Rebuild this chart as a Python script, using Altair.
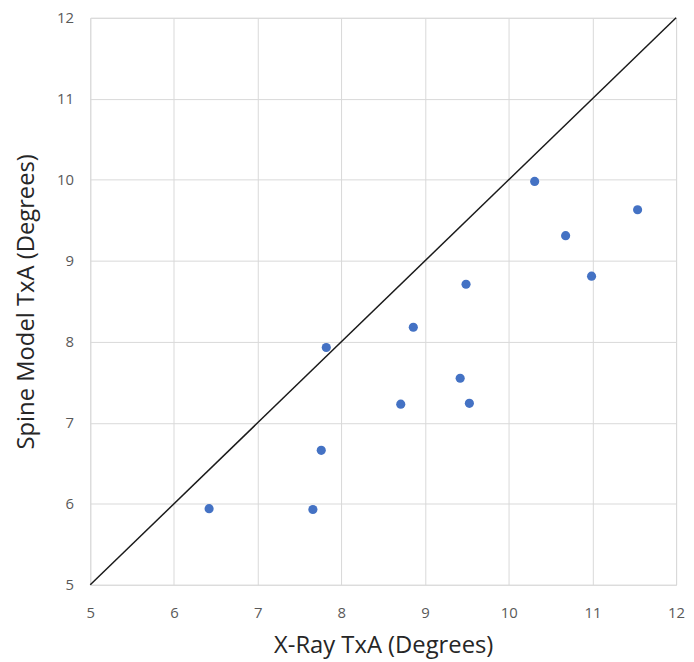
import altair as alt
import pandas as pd

xray = [6.42, 7.66, 7.76, 7.82, 8.71, 8.86, 9.42, 9.49, 9.53, 10.31, 10.68, 10.99, 11.54]
model = [5.94, 5.93, 6.66, 7.93, 7.23, 8.18, 7.55, 8.71, 7.24, 9.98, 9.31, 8.81, 9.63]
diag = [5, 12]
ticks = [5, 6, 7, 8, 9, 10, 11, 12]

pts = pd.DataFrame({"x": xray, "y": model})
line_df = pd.DataFrame({"x": diag, "y": diag})

xscale = alt.Scale(domain=[5, 12], nice=False, zero=False)
yscale = alt.Scale(domain=[5, 12], nice=False, zero=False)

common = dict(values=ticks, format="d", grid=True, gridColor="#d9d9d9", domain=False,
              ticks=False, labelFlush=False, labelFontSize=15, labelColor="#595959",
              labelFont="Open Sans", titleFont="Open Sans", titleFontSize=24,
              titleFontWeight="normal", titleColor="#262626")

xaxis = alt.Axis(title="X-Ray TxA (Degrees)", labelPadding=21, titlePadding=13, **common)
yaxis = alt.Axis(title="Spine Model TxA (Degrees)", labelPadding=17, titlePadding=18, **common)

points = alt.Chart(pts).mark_circle(size=85, color="#4472C4", opacity=1).encode(
    x=alt.X("x:Q", scale=xscale, axis=xaxis),
    y=alt.Y("y:Q", scale=yscale, axis=yaxis),
)
line = alt.Chart(line_df).mark_line(color="#1a1a1a", strokeWidth=1.5).encode(
    x=alt.X("x:Q", scale=xscale),
    y=alt.Y("y:Q", scale=yscale),
)

chart = alt.layer(line, points).properties(
    width=591, height=572,
    autosize=alt.AutoSizeParams(type="none"),
    padding={"left": 83, "top": 7, "right": 10, "bottom": 75},
).configure_view(stroke="#d9d9d9").configure(background="white")

chart.save("out.html", embed_options={"renderer": "svg", "actions": False})
